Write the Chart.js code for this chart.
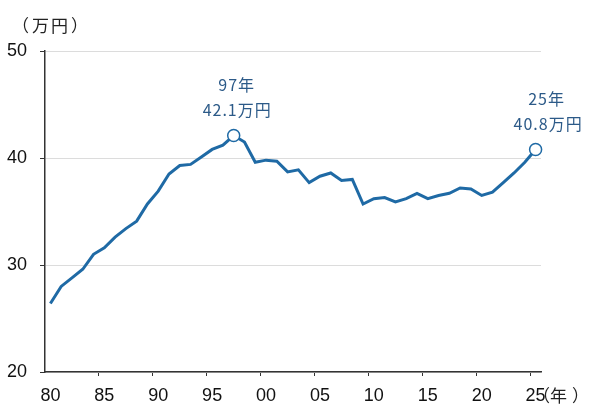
<!DOCTYPE html>
<html>
<head>
<meta charset="utf-8">
<script src="https://cdn.jsdelivr.net/npm/chart.js@4"></script>
<style>
  html, body { margin: 0; padding: 0; background: #ffffff; }
  #wrap { width: 600px; height: 420px; position: relative; }
</style>
</head>
<body>
<div id="wrap"><canvas id="c" width="600" height="420"></canvas></div>
<script>
// ---- data ----
const years = ["80","81","82","83","84","85","86","87","88","89",
               "90","91","92","93","94","95","96","97","98","99",
               "00","01","02","03","04","05","06","07","08","09",
               "10","11","12","13","14","15","16","17","18","19",
               "20","21","22","23","24","25"];
const wages = [26.4, 28.0, 28.8, 29.6, 31.0, 31.6, 32.6, 33.4, 34.1, 35.7,
               36.9, 38.5, 39.3, 39.4, 40.1, 40.8, 41.2, 42.1, 41.5, 39.6,
               39.8, 39.7, 38.7, 38.9, 37.7, 38.3, 38.6, 37.9, 38.0, 35.7,
               36.2, 36.3, 35.9, 36.2, 36.7, 36.2, 36.5, 36.7, 37.2, 37.1,
               36.5, 36.8, 37.7, 38.6, 39.6, 40.8];
const yTicks = [20, 30, 40, 50];
const highlightIdx = [17, 45];
const highlightLabels = [["97年", "42.1万円"], ["25年", "40.8万円"]];
const yUnit = ["（", "万", "円", "）"];
const xUnit = ["（", "年", "）"];

const LINE = "#1f6aa5";
const TEXT_BLUE = "#2c5a88";
const AXIS = "#333333";

// draw a character so that its ink starts at inkLeft
function drawInk(ctx, ch, inkLeft, y) {
  const m = ctx.measureText(ch);
  ctx.fillText(ch, inkLeft + m.actualBoundingBoxLeft, y);
}

const annotatePlugin = {
  id: "annotate",
  afterDatasetsDraw(chart) {
    const ctx = chart.ctx;
    const meta = chart.getDatasetMeta(0);
    ctx.save();
    ctx.fillStyle = TEXT_BLUE;
    ctx.font = "16px 'Noto Sans CJK JP'";
    ctx.letterSpacing = "1px";
    ctx.textAlign = "center";
    ctx.textBaseline = "middle";
    const offs = [[3, -51, 3.5, -26], [11, -51, 12.5, -26]];
    highlightIdx.forEach((idx, j) => {
      const pt = meta.data[idx];
      const lines = highlightLabels[j];
      const o = offs[j];
      ctx.fillText(lines[0], pt.x + o[0], pt.y + o[1]);
      ctx.fillText(lines[1], pt.x + o[2], pt.y + o[3]);
    });
    ctx.letterSpacing = "0px";
    // axis unit labels
    ctx.fillStyle = "#222";
    ctx.font = "17px 'Noto Sans CJK JP'";
    ctx.textAlign = "left";
    const yUnitInk = [23, 32, 52, 71];
    yUnit.forEach((ch, i) => drawInk(ctx, ch, yUnitInk[i], 25.5));
    const last = meta.data[meta.data.length - 1];
    const xUnitInk = [544, 550, 572];
    xUnit.forEach((ch, i) => drawInk(ctx, ch, xUnitInk[i] + (last.x - 535.5), 395.5));
    ctx.restore();
  }
};

new Chart(document.getElementById("c"), {
  type: "line",
  data: {
    labels: years,
    datasets: [{
      data: wages,
      borderColor: LINE,
      borderWidth: 3,
      tension: 0,
      clip: false,
      pointRadius: ctx => highlightIdx.includes(ctx.dataIndex) ? 6 : 0,
      pointHoverRadius: ctx => highlightIdx.includes(ctx.dataIndex) ? 6 : 0,
      pointBackgroundColor: "#ffffff",
      pointBorderColor: LINE,
      pointBorderWidth: 1.5
    }]
  },
  options: {
    responsive: false,
    animation: false,
    events: [],
    layout: { padding: { left: 0, right: 59, top: 51, bottom: 0 } },
    plugins: { legend: { display: false }, tooltip: { enabled: false } },
    scales: {
      x: {
        type: "category",
        offset: true,
        afterFit: s => { s.height = 48; },
        grid: {
          offset: true,
          drawOnChartArea: false,
          drawTicks: true,
          tickLength: 4,
          color: ctx => (ctx.index % 5 === 0 && ctx.index > 0 && ctx.index <= years.length - 1) ? AXIS : "rgba(0,0,0,0)",
          lineWidth: 1
        },
        border: { color: AXIS, width: 1.5 },
        ticks: {
          autoSkip: false,
          maxRotation: 0,
          minRotation: 0,
          padding: 9,
          color: "#111",
          font: { family: "'Liberation Sans', Arial, sans-serif", size: 18 },
          callback: (v, i) => (i % 5 === 0 ? years[i] : "")
        }
      },
      y: {
        min: 20,
        max: 50,
        afterFit: s => { s.width = 45; },
        afterBuildTicks: s => { s.ticks = yTicks.map(v => ({ value: v })); },
        grid: {
          color: "#dcdcdc",
          lineWidth: 1,
          drawTicks: true,
          tickLength: 5,
          tickColor: AXIS
        },
        border: { color: AXIS, width: 1.5 },
        ticks: {
          padding: 13,
          color: "#111",
          font: { family: "'Liberation Sans', Arial, sans-serif", size: 18 }
        }
      }
    }
  },
  plugins: [annotatePlugin]
});
</script>
</body>
</html>
